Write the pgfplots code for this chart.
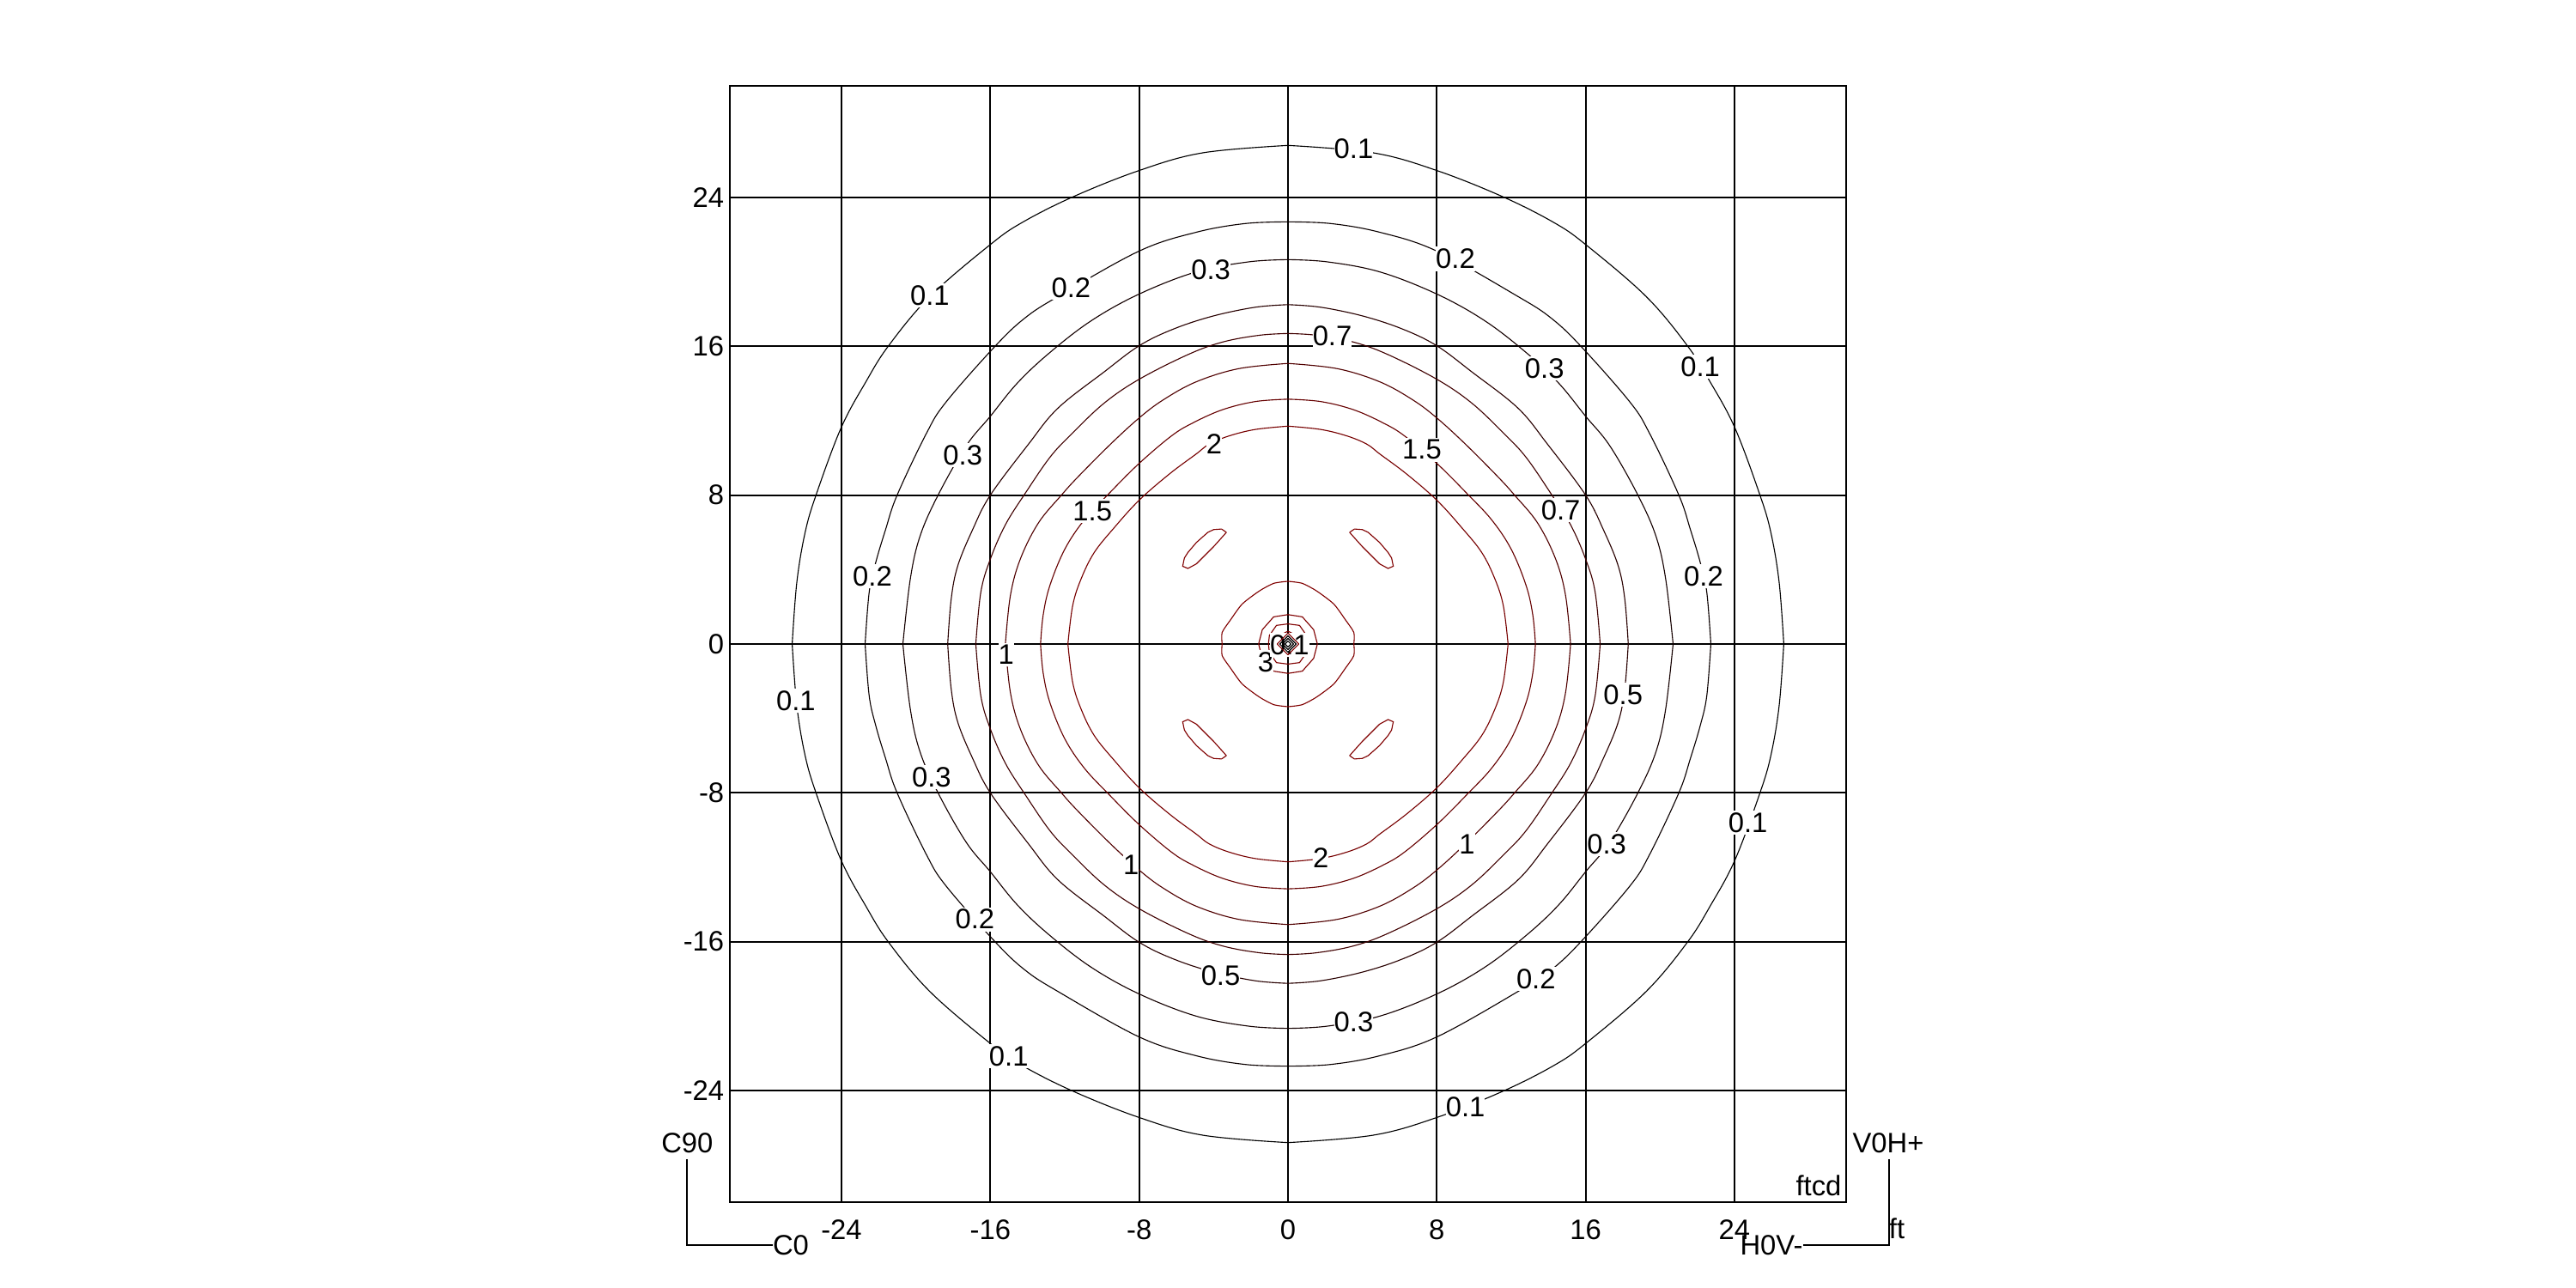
\documentclass[border=0pt]{standalone}
\usepackage{pgfplots}
\pgfplotsset{compat=1.18}
\usepackage{pgfplotstable}
\usepackage{fontspec}
\setmainfont{Liberation Sans}
\definecolor{ca}{RGB}{0,0,0}
\definecolor{cb}{RGB}{10,0,0}
\definecolor{cc}{RGB}{20,0,0}
\definecolor{cd}{RGB}{40,0,0}
\definecolor{ce}{RGB}{64,0,0}
\definecolor{cf}{RGB}{80,0,0}
\definecolor{cg}{RGB}{102,0,0}
\definecolor{ch}{RGB}{119,0,0}
\definecolor{ci}{RGB}{128,0,0}
\pgfplotstableread{
x y
0 26.8
4.59 26.4
8 25.45
11.57 24.03
14.3 22.65
16 21.47
19.25 18.68
21.47 16.03
22.69 14.09
24.02 11.62
25.37 8
25.96 5.97
26.4 3.32
26.65 0
}\ta
\pgfplotstableread{
x y
0 22.69
2.3 22.6
4.94 22.13
8 21.12
12.36 18.68
14.13 17.53
15.72 16.03
18.36 13.03
19.42 11.35
21.01 8
21.63 6.15
22.16 4.38
22.51 2.79
22.73 0
}\tb
\pgfplotstableread{
x y
0 20.66
2.12 20.54
4.94 20
8 18.81
10.6 17.36
12.89 15.59
14.57 14
16 12.24
17.3 10.65
18.81 8
19.78 5.79
20.3 3.5
20.7 0
}\tc
\pgfplotstableread{
x y
0 18.24
1.77 18.1
4.06 17.62
6.18 16.92
8 16.03
9.89 14.62
12.36 12.68
13.95 10.74
16 8
16.95 6.15
17.75 4.2
18.1 2.44
18.29 0
}\td
\pgfplotstableread{
x y
0 16.69
1.5 16.6
3.44 16.25
5.3 15.59
8 14.23
9.89 12.94
11.65 11.27
12.8 10.03
14.13 8.09
15.19 6.41
16 4.56
16.51 2.79
16.78 0
}\te
\pgfplotstableread{
x y
0 15.08
2.65 14.8
4.94 14.09
6.71 13.12
8 12.15
9.54 10.74
11.3 8.97
12.18 8
13.42 6.5
14.39 4.56
14.92 2.61
15.19 0
}\tf
\pgfplotstableread{
x y
0 13.16
1.77 13.03
3.53 12.59
5.12 11.88
6.27 11.18
8.03 9.68
9.62 8.09
10.95 6.67
12 5.09
12.8 3.14
13.16 1.55
13.3 0
}\tg
\pgfplotstableread{
x y
0 11.71
1.77 11.53
3.18 11.18
4.24 10.74
4.94 10.21
6.36 9.15
8 7.73
9.36 6.23
10.42 4.91
11.12 3.5
11.57 2.08
11.83 0
}\th
\pgfplotstableread{
x y
0 3.37
0.77 3.26
1.54 2.85
2.46 2.15
3.08 1.31
3.54 0.62
3.54 0
}\ti
\pgfplotstableread{
x y
0 1.58
0.77 1.46
1.38 0.77
1.58 0
}\tj
\pgfplotstableread{
x y
0 1.08
0.62 1
1 0.46
1.05 0
}\tk
\pgfplotstableread{
x y
0 0.69
0.62 0.38
0.74 0
}\tl
\pgfplotstableread{
x y
0 0.58
0.58 0
}\tm
\pgfplotstableread{
x y
0 0.44
0.44 0
}\tn
\pgfplotstableread{
x y
0 0.3
0.3 0
}\tp
\pgfplotstableread{
x y
0 0.16
0.16 0
}\tq
\pgfplotstableread{
x y
3.31 6
3.57 6.18
4 6.15
4.31 6
4.92 5.46
5.38 4.92
5.57 4.62
5.66 4.18
5.38 4.06
4.92 4.31
4.54 4.69
4 5.23
3.31 6
}\lobe
\newcommand\fourway[3][smooth,tension=0.6]{%
\addplot[#1,color=#3,line width=0.28pt,no markers] table[x=x,y=y]{#2};
\addplot[#1,color=#3,line width=0.28pt,no markers] table[x expr=-\thisrow{x},y=y]{#2};
\addplot[#1,color=#3,line width=0.28pt,no markers] table[x=x,y expr=-\thisrow{y}]{#2};
\addplot[#1,color=#3,line width=0.28pt,no markers] table[x expr=-\thisrow{x},y expr=-\thisrow{y}]{#2};
}
\tikzset{lab/.style={fill=white,text=black,inner xsep=0pt,inner ysep=0.6pt,font=\fontsize{8.2}{9}\selectfont},
 ann/.style={text=black,inner sep=0pt,font=\fontsize{8.2}{9}\selectfont}}
\begin{document}
\begin{tikzpicture}
\path[use as bounding box] (-212.5pt,-25pt) rectangle (537.5pt,350pt);
\begin{axis}[
  at={(0pt,0pt)},anchor=south west,
  scale only axis,width=325pt,height=325pt,
  xmin=-30,xmax=30,ymin=-30,ymax=30,
  xtick={-24,-16,-8,0,8,16,24},
  ytick={-24,-16,-8,0,8,16,24},
  xticklabels={-24,-16,-8,0,8,16,24},
  yticklabels={-24,-16,-8,0,8,16,24},
  tick style={draw=none},
  major tick length=0pt,
  grid=major,
  grid style={black,line width=0.5pt},
  axis line style={black,line width=0.5pt},
  xticklabel style={anchor=center,inner sep=0pt,yshift=-8pt,font=\fontsize{8.2}{9}\selectfont},
  yticklabel style={anchor=east,inner sep=0pt,xshift=-1.5pt,font=\fontsize{8.2}{9}\selectfont},
]
\fourway{\ta}{ca}
\fourway{\tb}{cb}
\fourway{\tc}{cc}
\fourway{\td}{cd}
\fourway{\te}{ce}
\fourway{\tf}{cf}
\fourway{\tg}{cg}
\fourway{\th}{ch}
\fourway[smooth,tension=0.4]{\ti}{ci}
\fourway[sharp plot]{\tj}{ci}
\fourway[sharp plot]{\tk}{ci}
\fourway[sharp plot]{\tl}{ci}
\fourway[sharp plot]{\lobe}{ci}
\node[lab] at (axis cs:3.53,26.6) {0.1};
\node[lab] at (axis cs:-19.25,18.72) {0.1};
\node[lab] at (axis cs:22.16,14.89) {0.1};
\node[lab] at (axis cs:-26.45,-3.05) {0.1};
\node[lab] at (axis cs:24.72,-9.62) {0.1};
\node[lab] at (axis cs:-15.01,-22.16) {0.1};
\node[lab] at (axis cs:9.54,-24.9) {0.1};
\node[lab] at (axis cs:-11.66,19.16) {0.2};
\node[lab] at (axis cs:9,20.7) {0.2};
\node[lab] at (axis cs:-22.34,3.64) {0.2};
\node[lab] at (axis cs:22.34,3.64) {0.2};
\node[lab] at (axis cs:-16.83,-14.8) {0.2};
\node[lab] at (axis cs:13.33,-18.01) {0.2};
\node[lab] at (axis cs:-4.15,20.13) {0.3};
\node[lab] at (axis cs:13.79,14.8) {0.3};
\node[lab] at (axis cs:-17.48,10.15) {0.3};
\node[lab] at (axis cs:-19.16,-7.15) {0.3};
\node[lab] at (axis cs:17.13,-10.77) {0.3};
\node[lab] at (axis cs:3.53,-20.31) {0.3};
\node[lab] at (axis cs:-3.62,-17.83) {0.5};
\node[lab] at (axis cs:18.01,-2.74) {0.5};
\node[lab] at (axis cs:2.38,16.56) {0.7};
\node[lab] at (axis cs:14.66,7.2) {0.7};
\node[lab] at (axis cs:-15.15,-0.57) {1};
\node[lab] at (axis cs:-8.44,-11.87) {1};
\node[lab] at (axis cs:9.62,-10.77) {1};
\node[lab] at (axis cs:-10.51,7.15) {1.5};
\node[lab] at (axis cs:7.2,10.44) {1.5};
\node[lab] at (axis cs:-3.97,10.77) {2};
\node[lab] at (axis cs:1.77,-11.48) {2};
\node[lab] at (axis cs:-1.2,-0.97) {3};
\node[lab] at (axis cs:0.09,-0.05) {0.1};
\fourway[sharp plot]{\tm}{ci}
\fourway[sharp plot]{\tn}{ca}
\fourway[sharp plot]{\tp}{ca}
\fourway[sharp plot]{\tq}{ca}
\end{axis}
\node[ann] at (-12.4pt,17.25pt) {C90};
\node[ann] at (17.75pt,-12.5pt) {C0};
\node[ann] at (337.25pt,17.25pt) {V0H+};
\node[ann] at (303.25pt,-12.5pt) {H0V-};
\node[ann] at (339.75pt,-7.75pt) {ft};
\node[ann] at (317pt,4.75pt) {ftcd};
\draw[black,line width=0.5pt] (-12.5pt,12.5pt) -- (-12.5pt,-12.5pt) -- (12.5pt,-12.5pt);
\draw[black,line width=0.5pt] (337.5pt,12.5pt) -- (337.5pt,-12.5pt) -- (312.5pt,-12.5pt);
\end{tikzpicture}
\end{document}
